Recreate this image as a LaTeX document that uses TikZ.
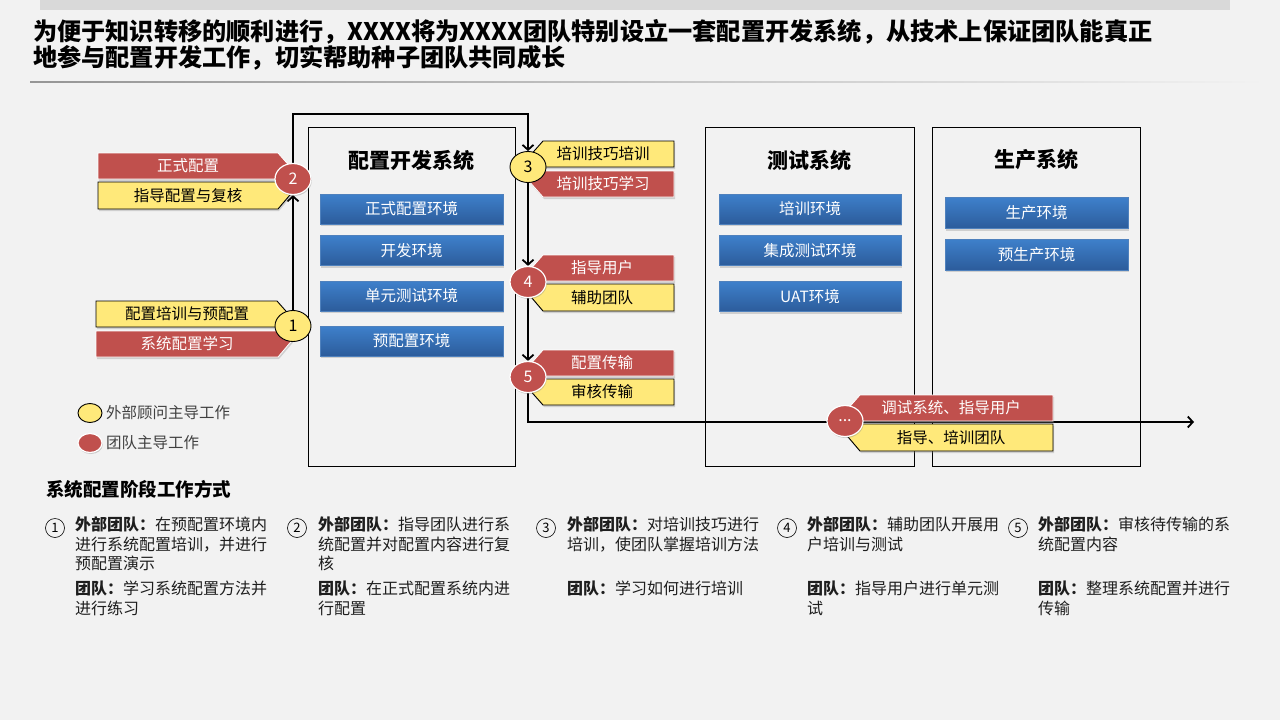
\documentclass[tikz,border=0pt]{standalone}
\usepackage{fontspec}
\setmainfont{Noto Sans CJK SC}
\usetikzlibrary{arrows.meta,shapes.geometric,shadows}
\pgfdeclarelayer{back}
\pgfdeclarelayer{lines}
\pgfsetlayers{back,lines,main}
\definecolor{bgc}{RGB}{242,242,242}
\definecolor{barc}{RGB}{217,217,217}
\definecolor{sepc}{RGB}{150,150,150}
\definecolor{redc}{RGB}{192,80,77}
\definecolor{yelc}{RGB}{255,233,122}
\definecolor{bluetop}{RGB}{62,128,203}
\definecolor{bluebot}{RGB}{44,92,155}
\definecolor{blueedge}{RGB}{79,129,189}
\definecolor{txt}{RGB}{30,30,30}
\definecolor{legtxt}{RGB}{64,64,64}
\tikzset{
  sysbox/.style={draw=black, line width=0.9pt, inner sep=0pt},
  systitle/.style={font=\fontsize{21}{24}\selectfont\bfseries, inner sep=0pt},
  envbox/.style={draw=blueedge, line width=0.5pt, top color=bluetop, bottom color=bluebot,
    text=white, font=\fontsize{15.5}{18}\selectfont, inner sep=0pt,
    drop shadow={opacity=0.3, shadow xshift=0.8pt, shadow yshift=-2pt}},
  labshadow/.style={drop shadow={opacity=0.3, shadow xshift=1pt, shadow yshift=-2pt}},
  redlab/.style={fill=redc, draw=white, line width=0.8pt, labshadow},
  yellab/.style={fill=yelc, draw=black, line width=0.9pt, labshadow},
  redtxt/.style={text=white, font=\fontsize{15.5}{18}\selectfont, inner sep=0pt},
  yeltxt/.style={text=black, font=\fontsize{15.5}{18}\selectfont, inner sep=0pt},
  yelcirc/.style={ellipse, fill=yelc, draw=black, line width=0.9pt, minimum width=36pt,
    minimum height=31pt, inner sep=0pt, font=\fontsize{16}{18}\selectfont},
  redcirc/.style={ellipse, fill=redc, draw=white, line width=1.2pt, minimum width=36pt,
    minimum height=31pt, inner sep=0pt, text=white, font=\fontsize{16}{18}\selectfont,
    drop shadow={opacity=0.35, shadow xshift=0.8pt, shadow yshift=-1.5pt}},
  conn/.style={draw=black, line width=1.8pt, line join=miter,
    -{Straight Barb[length=5pt,width=11pt]}},
  legtext/.style={anchor=west, text=legtxt, font=\fontsize{15.5}{18}\selectfont, inner sep=0pt},
  numcirc/.style={circle, draw=black, line width=0.6pt, minimum size=19pt, inner sep=0pt,
    font=\fontsize{13}{14}\selectfont},
  desc/.style={anchor=north west, align=left, inner sep=0pt, text=txt,
    font=\fontsize{16}{19.5}\selectfont},
}
\begin{document}
\begin{tikzpicture}[x=1pt,y=-1pt]
\useasboundingbox (0,0) rectangle (1280,720);
\begin{pgfonlayer}{back}
  \fill[bgc] (0,0) rectangle (1280,720);
  \fill[barc] (40,0) rectangle (1230,10);
  \shade[left color=sepc, right color=bgc] (30,81.4) rectangle (1265,82.6);
\end{pgfonlayer}

% title
\node[anchor=base west, font=\fontsize{24.2}{26}\selectfont\bfseries, inner sep=0pt] (title1) at (33,40)
  {为便于知识转移的顺利进行，XXXX将为XXXX团队特别设立一套配置开发系统，从技术上保证团队能真正};
\node[anchor=base west, font=\fontsize{24.2}{26}\selectfont\bfseries, inner sep=0pt] (title2) at (33,66)
  {地参与配置开发工作，切实帮助种子团队共同成长};

% system boxes
\node[sysbox, minimum width=207pt, minimum height=339pt] (sys1) at (411.5,296.5) {};
\node[sysbox, minimum width=209pt, minimum height=339pt] (sys2) at (809.5,296.5) {};
\node[sysbox, minimum width=208pt, minimum height=339pt] (sys3) at (1036,296.5) {};
\node[systitle] (sys1t) at (411.5,160) {配置开发系统};
\node[systitle] (sys2t) at (809.5,160) {测试系统};
\node[systitle] (sys3t) at (1036,160) {生产系统};

% environment boxes
\node[envbox, minimum width=183pt, minimum height=30pt] (e11) at (411.5,209) {正式配置环境};
\node[envbox, minimum width=183pt, minimum height=30pt] (e12) at (411.5,250.5) {开发环境};
\node[envbox, minimum width=183pt, minimum height=30pt] (e13) at (411.5,296) {单元测试环境};
\node[envbox, minimum width=183pt, minimum height=30pt] (e14) at (411.5,341) {预配置环境};
\node[envbox, minimum width=182pt, minimum height=30pt] (e21) at (810,209) {培训环境};
\node[envbox, minimum width=182pt, minimum height=30pt] (e22) at (810,250.5) {集成测试环境};
\node[envbox, minimum width=182pt, minimum height=30pt] (e23) at (810,296.5) {UAT环境};
\node[envbox, minimum width=183pt, minimum height=31pt] (e31) at (1036.5,213) {生产环境};
\node[envbox, minimum width=183pt, minimum height=31pt] (e32) at (1036.5,254.5) {预生产环境};

% left labels
\path[redlab] (98,153) -- (278,153) -- (301,179) -- (98,179) -- cycle;
\node[redtxt] (l2a) at (188,166) {正式配置};
\path[yellab] (98,182) -- (301,182) -- (278,209) -- (98,209) -- cycle;
\node[yeltxt] (l2b) at (188,195.5) {指导配置与复核};
\path[yellab] (96,301) -- (277,301) -- (300,327) -- (96,327) -- cycle;
\node[yeltxt] (l1a) at (187,314) {配置培训与预配置};
\path[redlab] (96,331) -- (300,331) -- (278,357) -- (96,357) -- cycle;
\node[redtxt] (l1b) at (187,344) {系统配置学习};

% right labels
\path[yellab] (543,141) -- (674,141) -- (674,167) -- (520,167) -- cycle;
\node[yeltxt] (l3a) at (603,154) {培训技巧培训};
\path[redlab] (520,171) -- (674,171) -- (674,197) -- (543,197) -- cycle;
\node[redtxt] (l3b) at (603,184) {培训技巧学习};
\path[redlab] (543,255) -- (674,255) -- (674,281) -- (520,281) -- cycle;
\node[redtxt] (l4a) at (602,268) {指导用户};
\path[yellab] (520,284) -- (674,284) -- (674,311) -- (543,311) -- cycle;
\node[yeltxt] (l4b) at (602,297.5) {辅助团队};
\path[redlab] (543,350) -- (674,350) -- (674,376) -- (520,376) -- cycle;
\node[redtxt] (l5a) at (602,363) {配置传输};
\path[yellab] (520,379) -- (674,379) -- (674,405) -- (543,405) -- cycle;
\node[yeltxt] (l5b) at (602,392) {审核传输};
\path[redlab] (860,395) -- (1053,395) -- (1053,421) -- (837,421) -- cycle;
\node[redtxt] (lxa) at (951,408) {调试系统、指导用户};
\path[yellab] (837,424) -- (1053,424) -- (1053,451) -- (860,451) -- cycle;
\node[yeltxt] (lxb) at (951,437.5) {指导、培训团队};

% circles
\node[yelcirc] (c1) at (293,326) {1};
\node[redcirc] (c2) at (293,179) {2};
\node[yelcirc] (c3) at (528,167) {3};
\node[redcirc] (c4) at (528,282) {4};
\node[redcirc] (c5) at (528,377) {5};
\node[redcirc] (cx) at (845,421) {...};

% connectors
\coordinate (k1) at (293,114);
\coordinate (k2) at (528,114);
\coordinate (k3) at (528,422);
\coordinate (kend) at (1194,422);
\begin{pgfonlayer}{lines}
  \draw[conn] (c1.center) -- (c2.south);
  \draw[conn] (c2.center) -- (k1) -- (k2) -- (c3.north);
  \draw[conn] (c3.center) -- (c4.north);
  \draw[conn] (c4.center) -- (c5.north);
  \draw[conn] (c5.center) -- (k3) -- (kend);
\end{pgfonlayer}

% legend
\node[yelcirc, minimum width=24pt, minimum height=19pt] (lg1) at (90,413) {};
\node[legtext] (lg1t) at (106,413) {外部顾问主导工作};
\node[redcirc, minimum width=24pt, minimum height=19pt] (lg2) at (90,443) {};
\node[legtext] (lg2t) at (106,443) {团队主导工作};

% subtitle
\node[anchor=west, inner sep=0pt, font=\fontsize{18.5}{20}\selectfont\bfseries] (sub) at (46,489) {系统配置阶段工作方式};

% descriptions
\node[numcirc] (n1) at (55,528) {1};
\node[numcirc] (n2) at (297,528) {2};
\node[numcirc] (n3) at (546,528) {3};
\node[numcirc] (n4) at (787,528) {4};
\node[numcirc] (n5) at (1018,528) {5};

\node[desc] (d1a) at (75,516.5) {\textbf{外部团队：}在预配置环境内\\进行系统配置培训，并进行\\预配置演示};
\node[desc] (d1b) at (75,581) {\textbf{团队：}学习系统配置方法并\\进行练习};
\node[desc] (d2a) at (318,516.5) {\textbf{外部团队：}指导团队进行系\\统配置并对配置内容进行复\\核};
\node[desc] (d2b) at (318,581) {\textbf{团队：}在正式配置系统内进\\行配置};
\node[desc] (d3a) at (567,516.5) {\textbf{外部团队：}对培训技巧进行\\培训，使团队掌握培训方法};
\node[desc] (d3b) at (567,581) {\textbf{团队：}学习如何进行培训};
\node[desc] (d4a) at (807,516.5) {\textbf{外部团队：}辅助团队开展用\\户培训与测试};
\node[desc] (d4b) at (807,581) {\textbf{团队：}指导用户进行单元测\\试};
\node[desc] (d5a) at (1038,516.5) {\textbf{外部团队：}审核待传输的系\\统配置内容};
\node[desc] (d5b) at (1038,581) {\textbf{团队：}整理系统配置并进行\\传输};
\end{tikzpicture}
\end{document}
